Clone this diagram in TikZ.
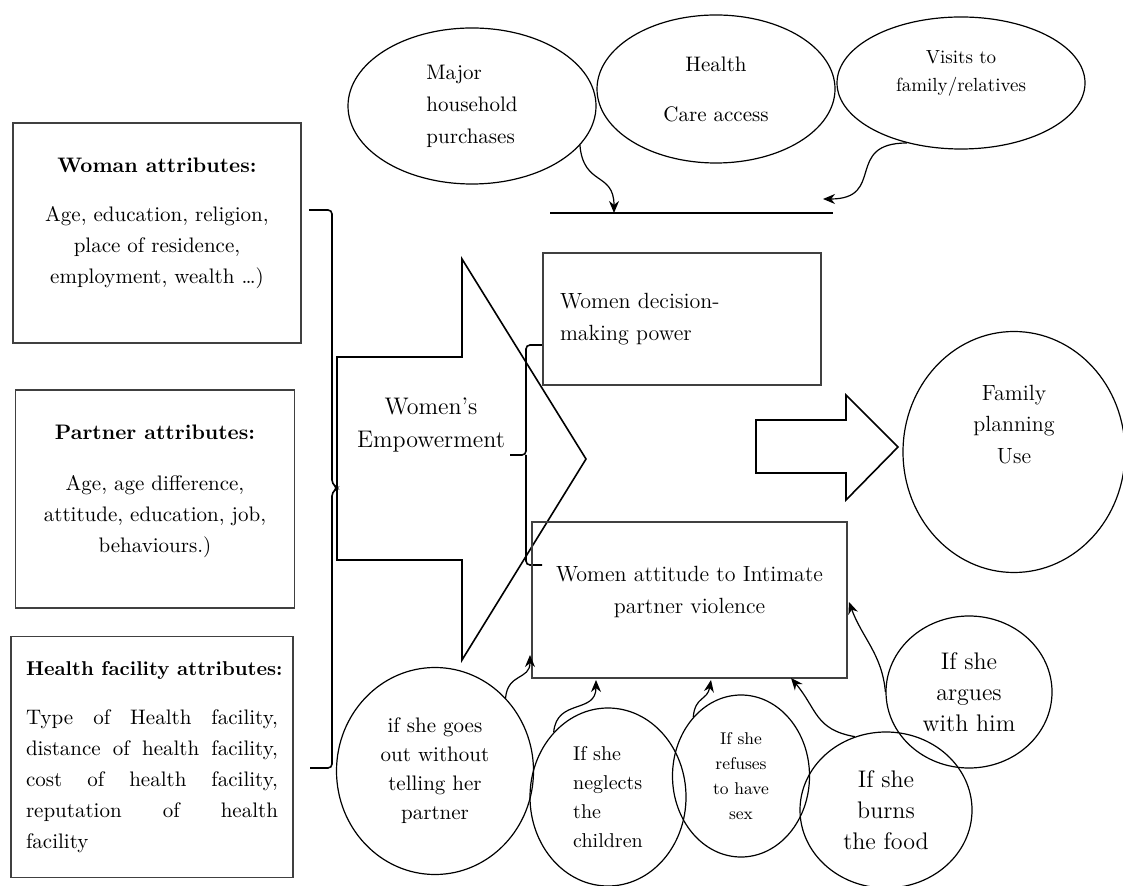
\documentclass[tikz,border=0pt]{standalone}
\usepackage{tikz}
\usetikzlibrary{arrows.meta,shapes.geometric}

\begin{document}
\begin{tikzpicture}[x=0.5pt,y=0.5pt,>={Stealth[length=6pt,width=5pt]},semithick,
  attr box/.style={rectangle,draw=black!75,line width=0.9pt,align=center,font=\fontsize{10.5}{15.5}\selectfont},
  main box/.style={rectangle,draw=black!75,line width=0.9pt,font=\fontsize{11}{16}\selectfont},
  bubble/.style={ellipse,draw,semithick,inner sep=0pt,align=center,font=\fontsize{10.5}{15}\selectfont},
  big bubble/.style={bubble,font=\fontsize{12}{15.5}\selectfont},
  link/.style={->,semithick}]

  \useasboundingbox (0,0) rectangle (1123,-886);

  % left attribute boxes
  \node[attr box,minimum width=144pt,minimum height=110pt,text depth=12pt] (woman) at (157,-233)
    {\textbf{Woman attributes:}\\[9pt]Age, education, religion,\\place of residence,\\employment, wealth \dots)};
  \node[attr box,minimum width=139.5pt,minimum height=109pt,text depth=10pt] (partner) at (155,-499)
    {\textbf{Partner attributes:}\\[10pt]Age, age difference,\\attitude, education, job,\\behaviours.)};
  \node[attr box,align=justify,text width=126pt,inner xsep=7.5pt,minimum height=120.5pt] (facility) at (152,-757)
    {\mbox{\fontsize{10}{15}\selectfont\bfseries Health facility attributes:}\\[9pt]Type of Health facility,\linebreak
     distance of health facility,\linebreak cost of health facility,\linebreak
     reputation of health\linebreak facility};

  % brace to the big arrow
  \draw[line width=0.8pt,rounded corners=2pt] (309,-210) -- (332,-210) -- (332,-484) -- (338,-488)
    -- (332,-492) -- (332,-768) -- (310,-768);

  % big arrow
  \draw[line width=0.8pt] (337,-357) -- (462,-357) -- (462,-259) -- (586,-459) -- (462,-660)
    -- (462,-560) -- (337,-560) -- cycle;
  \node[font=\fontsize{12}{16.5}\selectfont,align=center] (empower) at (431,-425) {Women's\\Empowerment};

  % inner brace
  \draw[line width=0.8pt,rounded corners=2pt] (543,-345) -- (526,-345) -- (526,-455) -- (510,-455);
  \draw[line width=0.8pt,rounded corners=2pt] (526,-455) -- (526,-565) -- (542,-565);

  % outcome boxes
  \node[main box,minimum width=139pt,minimum height=66pt,text width=122pt,inner xsep=8.5pt,align=left] (decision) at (682,-319)
    {Women decision-\\making power};
  \node[main box,minimum width=157.5pt,minimum height=78pt,align=center,text depth=10pt] (ipv) at (689.5,-600)
    {Women attitude to Intimate\\partner violence};

  % small arrow
  \draw[line width=0.8pt] (756,-420) -- (846,-420) -- (846,-395) -- (898,-447) -- (846,-500)
    -- (846,-473) -- (756,-473) -- cycle;
  \node[bubble,font=\fontsize{11}{15.75}\selectfont,minimum width=111pt,minimum height=120.5pt,text depth=28pt] (fpuse) at (1014,-452)
    {Family\\planning\\Use};

  % decision bubbles
  \node[bubble,align=left,minimum width=124pt,minimum height=78pt,font=\fontsize{10.5}{16}\selectfont] (purchases) at (472,-106)
    {Major\\household\\purchases};
  \node[bubble,minimum width=119pt,minimum height=74pt] (health) at (716,-89) {Health\\[10pt]Care access};
  \node[bubble,minimum width=124pt,minimum height=66pt,text depth=12pt,font=\fontsize{9.5}{14}\selectfont] (visits) at (961,-83)
    {Visits to\\family/relatives};
  \coordinate (lineL) at (550,-213);
  \coordinate (lineR) at (833,-213);
  \draw[line width=0.8pt] (lineL) -- (lineR);

  % violence bubbles
  \node[bubble,minimum width=98.5pt,minimum height=103.5pt,font=\fontsize{10.5}{14.5}\selectfont] (goesout) at (435,-771)
    {if she goes\\out without\\telling her\\partner};
  \node[bubble,align=left,minimum width=78pt,minimum height=89pt,font=\fontsize{10}{14.5}\selectfont] (neglects) at (608,-797)
    {If she\\neglects\\the\\children};
  \node[bubble,minimum width=68.5pt,minimum height=81pt,font=\fontsize{8.5}{12.5}\selectfont] (refuses) at (741,-776)
    {If she\\refuses\\to have\\sex};
  \node[big bubble,minimum width=86pt,minimum height=78pt] (burns) at (886,-810) {If she\\burns\\the food};
  \node[big bubble,minimum width=83pt,minimum height=76pt] (argues) at (969,-692) {If she\\argues\\with him};

  \coordinate (tipP) at (614,-213);
  \coordinate (tipV) at (823,-199);
  \coordinate (tipA) at (530,-655);
  \coordinate (tipB) at (596,-680);
  \coordinate (tipC) at (711,-680);
  \coordinate (tipD) at (791,-678);
  \coordinate (tipE) at (849,-602);

  \path[link]
    (purchases.-20) edge[out=-85,in=90,looseness=1.4] (tipP)
    (visits.228) edge[out=180,in=0,looseness=1.6] (tipV)
    (goesout.46) edge[out=85,in=-90,looseness=1.3] (tipA)
    (neglects.130) edge[out=85,in=-90,looseness=1.3] (tipB)
    (refuses.129) edge[out=85,in=-100,looseness=1.3] (tipC)
    (burns.113) edge[out=170,in=-50,looseness=1.2] (tipD)
    (argues.180) edge[out=95,in=-70] (tipE);
\end{tikzpicture}
\end{document}
